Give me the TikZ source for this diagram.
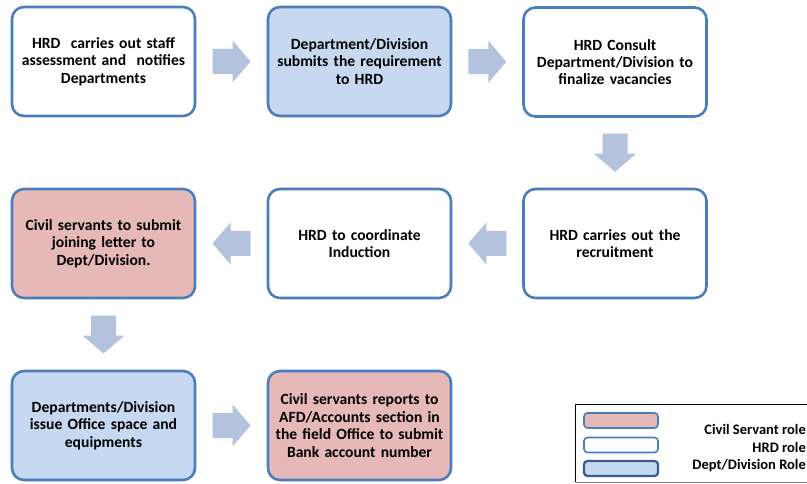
\documentclass[tikz,border=0pt]{standalone}
\usepackage{fontspec}
\setmainfont{Carlito}
\usetikzlibrary{calc}
\definecolor{edgeblue}{RGB}{74,126,187}
\definecolor{edgedark}{RGB}{56,93,138}
\definecolor{deptfill}{RGB}{198,217,240}
\definecolor{civilfill}{RGB}{230,185,184}
\definecolor{arrowfill}{RGB}{179,195,222}
\tikzset{
  stepbox/.style={draw=edgeblue, line width=2.6pt, rounded corners=12pt,
    minimum width=183pt, minimum height=109pt, text width=176pt, align=center,
    inner sep=0pt, font=\fontsize{15.6}{17.4}\selectfont\bfseries},
  hrd/.style={stepbox, fill=white},
  dept/.style={stepbox, fill=deptfill},
  civil/.style={stepbox, fill=civilfill},
  swatch/.style={draw=edgeblue, line width=1.6pt, rounded corners=3.5pt,
    minimum width=74pt, minimum height=15pt, inner sep=0pt},
  legtext/.style={anchor=base east, inner sep=0pt, font=\fontsize{14.5}{17.5}\selectfont\bfseries}
}
% block arrow centred on #1, rotated by #2 (0 = pointing right, -90 = pointing down)
\newcommand\blockarrow[2]{%
  \begin{scope}[shift={(#1)}, rotate=#2]
    \fill[arrowfill] (-19,-12.5) -- (1,-12.5) -- (1,-21) -- (19,0)
      -- (1,21) -- (1,12.5) -- (-19,12.5) -- cycle;
  \end{scope}}
\begin{document}
\begin{tikzpicture}[x=1pt, y=-1pt]
\useasboundingbox (0,0) rectangle (807,484);
\fill[white] (0,0) rectangle (807,484);

% process steps
\node[hrd]   (s1) at (103.5,61.5)  {HRD\ \ carries out staff\\assessment and\ \ notifies\\Departments};
\node[dept]  (s2) at (359.5,61.5)  {Department/Division\\submits the requirement\\to HRD};
\node[hrd]   (s3) at (615,62)      {HRD Consult\\Department/Division to\\finalize vacancies};
\node[hrd]   (s6) at (615,243.5)   {HRD carries out the\\recruitment};
\node[hrd]   (s5) at (359.5,243.5) {HRD to coordinate\\Induction};
\node[civil] (s4) at (103.5,243.5) {Civil servants to submit\\joining letter to\\Dept/Division.};
\node[dept]  (s7) at (103.5,425.5) {Departments/Division\\issue Office space and\\equipments};
\node[civil] (s8) at (359.5,425.5) {Civil servants reports to\\AFD/Accounts section in\\the field Office to submit\\Bank account number};

% flow arrows
\coordinate (a12) at ($(s1.east)!0.5!(s2.west)$);
\coordinate (a23) at ($(s2.east)!0.5!(s3.west)$);
\coordinate (a36) at ($(s3.south)!0.5!(s6.north)$);
\coordinate (a65) at ($(s6.west)!0.5!(s5.east)$);
\coordinate (a54) at ($(s5.west)!0.5!(s4.east)$);
\coordinate (a47) at ($(s4.south)!0.5!(s7.north)$);
\coordinate (a78) at ($(s7.east)!0.5!(s8.west)$);
\blockarrow{a12}{0}
\blockarrow{a23}{0}
\blockarrow{a36}{-90}
\blockarrow{a65}{180}
\blockarrow{a54}{180}
\blockarrow{a47}{-90}
\blockarrow{a78}{0}

% legend
\draw[line width=1.5pt] (815,404.5) -- (575.5,404.5) -- (575.5,482);
\draw[line width=1pt, gray] (575.5,482) -- (815,482);
\node[swatch, fill=civilfill] (k1) at (621,420.5) {};
\node[swatch, fill=white]    (k2) at (621,445)   {};
\node[swatch, fill=deptfill, draw=edgedark, line width=2.2pt] (k3) at (621,468.5) {};
\node[legtext] (t1) at (806,434.5) {Civil Servant role};
\node[legtext] (t2) at (806,452) {HRD role};
\node[legtext] (t3) at (806,469.5) {Dept/Division Role};
\end{tikzpicture}
\end{document}
